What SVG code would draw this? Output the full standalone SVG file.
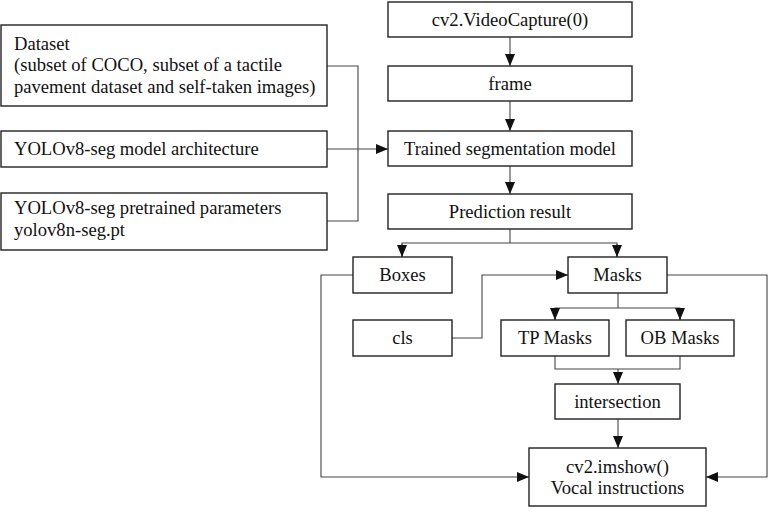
<svg xmlns="http://www.w3.org/2000/svg" width="770" height="516" viewBox="0 0 770 516">
<defs>
<style>
.box{fill:#fff;stroke:#222;stroke-width:1.4}
.t{font-family:'Liberation Serif','Times New Roman',Tinos,'DejaVu Serif',serif;font-size:18.6px;fill:#111}
.c{text-anchor:middle}
.ln{fill:none;stroke:#444;stroke-width:1.1}
</style>
<marker id="ah" viewBox="0 0 12 10" refX="12" refY="5" markerWidth="12" markerHeight="10" markerUnits="userSpaceOnUse" orient="auto">
<path d="M0,0 L12,5 L0,10 Z" fill="#111"/>
</marker>
</defs>
<rect width="770" height="516" fill="#fff"/>
<g id="connectors">
<polyline class="ln" points="327,66 358,66 358,221 327,221"/>
<line class="ln" x1="327" y1="149" x2="388" y2="149" marker-end="url(#ah)"/>
<line class="ln" x1="510" y1="37" x2="510" y2="66" marker-end="url(#ah)"/>
<line class="ln" x1="510" y1="101" x2="510" y2="131" marker-end="url(#ah)"/>
<line class="ln" x1="510" y1="166" x2="510" y2="194" marker-end="url(#ah)"/>
<polyline class="ln" points="510,229 510,243"/>
<polyline class="ln" points="402,257 402,243 617,243 617,257" />
<line class="ln" x1="402" y1="244" x2="402" y2="257" marker-end="url(#ah)"/>
<line class="ln" x1="617" y1="244" x2="617" y2="257" marker-end="url(#ah)"/>
<polyline class="ln" points="353,275 321,275 321,477 529,477" marker-end="url(#ah)"/>
<polyline class="ln" points="452,338 482,338 482,275 568,275" marker-end="url(#ah)"/>
<polyline class="ln" points="667,275 767,275 767,477 706,477" marker-end="url(#ah)"/>
<polyline class="ln" points="618,293 618,308"/>
<polyline class="ln" points="555,320 555,308 680,308 680,320"/>
<line class="ln" x1="555" y1="309" x2="555" y2="320" marker-end="url(#ah)"/>
<line class="ln" x1="680" y1="309" x2="680" y2="320" marker-end="url(#ah)"/>
<polyline class="ln" points="555,356 555,369 680,369 680,356"/>
<line class="ln" x1="618" y1="369" x2="618" y2="384" marker-end="url(#ah)"/>
<line class="ln" x1="618" y1="419" x2="618" y2="448" marker-end="url(#ah)"/>
</g>
<g id="dataset">
<rect class="box" x="1" y="25" width="326" height="81"/>
<text class="t" x="14" y="50">Dataset</text>
<text class="t" x="14" y="71">(subset of COCO, subset of a tactile</text>
<text class="t" x="14" y="93">pavement dataset and self-taken images)</text>
</g>
<g id="arch">
<rect class="box" x="1" y="131" width="326" height="36"/>
<text class="t" x="14" y="155">YOLOv8-seg model architecture</text>
</g>
<g id="pretrained">
<rect class="box" x="1" y="193" width="326" height="57"/>
<text class="t" x="14" y="214">YOLOv8-seg pretrained parameters</text>
<text class="t" x="14" y="236">yolov8n-seg.pt</text>
</g>
<g id="videocapture">
<rect class="box" x="388" y="2" width="244" height="35"/>
<text class="t c" x="510" y="26">cv2.VideoCapture(0)</text>
</g>
<g id="frame">
<rect class="box" x="388" y="66" width="244" height="35"/>
<text class="t c" x="510" y="90">frame</text>
</g>
<g id="trained">
<rect class="box" x="388" y="131" width="244" height="35"/>
<text class="t c" x="510" y="155">Trained segmentation model</text>
</g>
<g id="prediction">
<rect class="box" x="388" y="194" width="244" height="35"/>
<text class="t c" x="510" y="218">Prediction result</text>
</g>
<g id="boxes">
<rect class="box" x="353" y="257" width="99" height="36"/>
<text class="t c" x="402.5" y="281">Boxes</text>
</g>
<g id="masks">
<rect class="box" x="568" y="257" width="99" height="36"/>
<text class="t c" x="617.5" y="281">Masks</text>
</g>
<g id="cls">
<rect class="box" x="353" y="320" width="99" height="36"/>
<text class="t c" x="402.5" y="344">cls</text>
</g>
<g id="tpmasks">
<rect class="box" x="501" y="320" width="108" height="36"/>
<text class="t c" x="555" y="344">TP Masks</text>
</g>
<g id="obmasks">
<rect class="box" x="626" y="320" width="108" height="36"/>
<text class="t c" x="680" y="344">OB Masks</text>
</g>
<g id="intersection">
<rect class="box" x="555" y="384" width="125" height="35"/>
<text class="t c" x="617.5" y="408">intersection</text>
</g>
<g id="imshow">
<rect class="box" x="529" y="448" width="177" height="58"/>
<text class="t c" x="617.5" y="473">cv2.imshow()</text>
<text class="t c" x="617.5" y="494">Vocal instructions</text>
</g>
</svg>
